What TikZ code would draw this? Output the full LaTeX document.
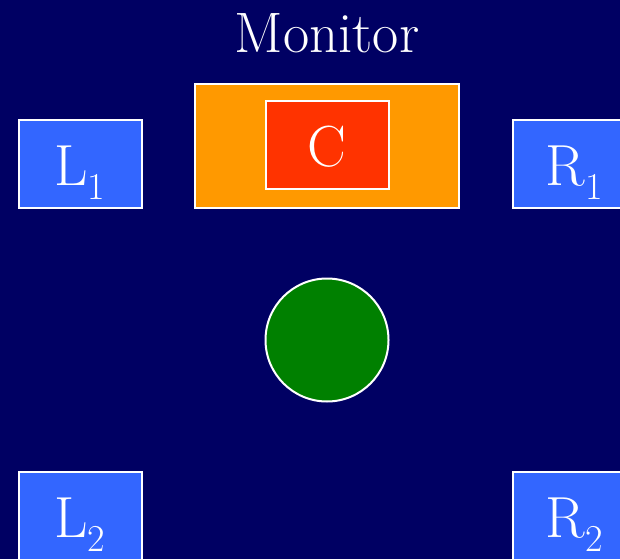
\documentclass[tikz,border=0pt]{standalone}
\usepackage{tikz}
\definecolor{navy}{HTML}{000063}
\definecolor{procblue}{HTML}{3366FF}
\definecolor{monorange}{HTML}{FF9900}
\definecolor{condred}{HTML}{FF3300}
\definecolor{resgreen}{HTML}{008000}
\newcommand{\bigfont}{\fontsize{58}{58}\selectfont}
\newcommand{\subidx}[1]{\raisebox{-14pt}{\fontsize{38}{38}\selectfont #1}}
\tikzstyle{proc} = [draw=white, line width=2pt, fill=procblue, text=white, minimum width=123pt, minimum height=88pt, inner sep=0pt, font=\bigfont, text height=58pt, text depth=15pt]
\tikzstyle{monitor} = [draw=white, line width=2pt, fill=monorange, minimum width=264pt, minimum height=123pt, inner sep=0pt]
\tikzstyle{cond} = [proc, fill=condred]
\tikzstyle{resource} = [circle, draw=white, line width=2pt, fill=resgreen, minimum size=123pt, inner sep=0pt]

\begin{document}
\begin{tikzpicture}[x=1pt, y=-1pt]
	\clip (0,0) rectangle (620,559);
	\fill[navy] (0,0) rectangle (620,559);
	\node[text=white, font=\fontsize{57}{57}\selectfont, anchor=base] (title) at (327, 53) {Monitor};
	\node[monitor] (mon) at (326.5, 146) {};
	\node[cond] (c) at (327, 145) {C};
	\node[proc] (l1) at (80, 163.5) {L\subidx{1}};
	\node[proc] (r1) at (574, 163.5) {R\subidx{1}};
	\node[resource] (res) at (327, 340) {};
	\node[proc] (l2) at (80, 515.5) {L\subidx{2}};
	\node[proc] (r2) at (574, 515.5) {R\subidx{2}};
\end{tikzpicture}
\end{document}
